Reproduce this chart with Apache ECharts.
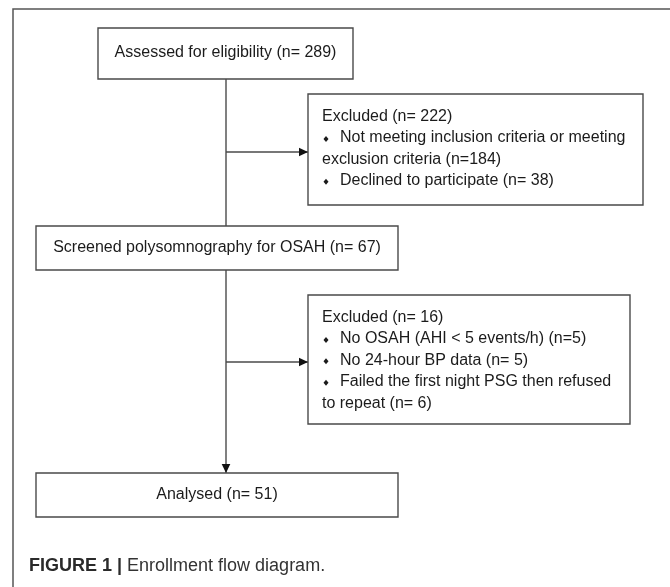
<!DOCTYPE html>
<html>
<head>
<meta charset="utf-8">
<title>Enrollment flow diagram</title>
<script src="https://cdn.jsdelivr.net/npm/echarts@6/dist/echarts.min.js"></script>
<style>
  html, body { margin: 0; padding: 0; background: #fff; }
  #chart { width: 670px; height: 587px; }
</style>
</head>
<body>
<div id="chart"></div>
<script>
// ---- data ----
const stageLabels = ['Assessed for eligibility', 'Screened polysomnography for OSAH', 'Analysed'];
const stageCounts = [289, 67, 51];
const excludedCounts = [222, 16];
const excludedReasons = [
  ['Not meeting inclusion criteria or meeting\nexclusion criteria (n=184)', 'Declined to participate (n= 38)'],
  ['No OSAH (AHI < 5 events/h) (n=5)', 'No 24-hour BP data (n= 5)', 'Failed the first night PSG then refused\nto repeat (n= 6)'],
];
const captionLabel = 'FIGURE 1 |';
const captionText = 'Enrollment flow diagram.';

// ---- layout (axis units = page pixels) ----
const stageBoxes = [[98, 28, 353, 79], [36, 226, 398, 270], [36, 473, 398, 517]];
const excludedBoxes = [[308, 94, 643, 205], [308, 295, 630, 424]];
const spineX = 226;
const branchY = [152, 362];
const frame = [13, 9];

const LINE = '#4a4a4a';
const INK = '#1b1b1b';
const FONT = '16px "Liberation Sans", Arial, sans-serif';
const LINE_H = 21.4;

// connectors: [x0, y0, x1, y1, arrow]
const connectors = [
  [spineX, stageBoxes[0][3], spineX, stageBoxes[1][1], 0],
  [spineX, branchY[0], excludedBoxes[0][0], branchY[0], 1],
  [spineX, stageBoxes[1][3], spineX, stageBoxes[2][1], 1],
  [spineX, branchY[1], excludedBoxes[1][0], branchY[1], 1],
];

function rectShape(api, b) {
  const p0 = api.coord([b[0], b[1]]);
  const p1 = api.coord([b[2], b[3]]);
  return { x: p0[0], y: p0[1], width: p1[0] - p0[0], height: p1[1] - p0[1] };
}

function renderStage(params, api) {
  const i = params.dataIndex;
  const r = rectShape(api, stageBoxes[i]);
  return {
    type: 'group',
    children: [
      { type: 'rect', shape: r, style: { fill: '#fff', stroke: LINE, lineWidth: 1.4 } },
      {
        type: 'text',
        style: {
          text: stageLabels[i] + ' (n= ' + stageCounts[i] + ')',
          x: r.x + r.width / 2, y: r.y + r.height / 2 - 0.5,
          align: 'center', verticalAlign: 'middle',
          font: FONT, fill: INK,
        },
      },
    ],
  };
}

function renderExcluded(params, api) {
  const i = params.dataIndex;
  const r = rectShape(api, excludedBoxes[i]);
  const left = r.x + 14;
  let y = r.y + 22.5;
  const children = [
    { type: 'rect', shape: r, style: { fill: '#fff', stroke: LINE, lineWidth: 1.4 } },
    {
      type: 'text',
      style: { text: 'Excluded (n= ' + excludedCounts[i] + ')', x: left, y: y, align: 'left', verticalAlign: 'middle', font: FONT, fill: INK },
    },
  ];
  excludedReasons[i].forEach((reason) => {
    reason.split('\n').forEach((part, k) => {
      y += LINE_H;
      if (k === 0) {
        const cx = left + 4, cy = y + 1;
        children.push({
          type: 'polygon',
          shape: { points: [[cx, cy - 3], [cx + 2.5, cy], [cx, cy + 3], [cx - 2.5, cy]] },
          style: { fill: INK },
        });
      }
      children.push({
        type: 'text',
        style: { text: part, x: k === 0 ? left + 18 : left, y: y, align: 'left', verticalAlign: 'middle', font: FONT, fill: INK },
      });
    });
  });
  return { type: 'group', children };
}

function renderConnector(params, api) {
  const c = connectors[params.dataIndex];
  const p0 = api.coord([c[0], c[1]]);
  const p1 = api.coord([c[2], c[3]]);
  const children = [{
    type: 'line',
    shape: { x1: p0[0], y1: p0[1], x2: p1[0], y2: p1[1] },
    style: { stroke: LINE, lineWidth: 1.4 },
  }];
  if (c[4]) {
    const dx = p1[0] - p0[0], dy = p1[1] - p0[1];
    const len = Math.hypot(dx, dy);
    const ux = dx / len, uy = dy / len;
    const L = 9, W = 4.3;
    const bx = p1[0] - ux * L, by = p1[1] - uy * L;
    children.push({
      type: 'polygon',
      shape: { points: [[p1[0], p1[1]], [bx - uy * W, by + ux * W], [bx + uy * W, by - ux * W]] },
      style: { fill: '#111' },
    });
  }
  return { type: 'group', children };
}

function renderFrame(params, api) {
  const tl = api.coord(frame);
  const tr = api.coord([670, frame[1]]);
  const bl = api.coord([frame[0], 587]);
  return {
    type: 'polyline',
    shape: { points: [bl, tl, tr] },
    style: { stroke: '#555', lineWidth: 1.5, fill: null },
  };
}

const chart = echarts.init(document.getElementById('chart'));
chart.setOption({
  backgroundColor: '#fff',
  animation: false,
  title: {
    text: '{b|' + captionLabel + '}{n| ' + captionText + '}',
    left: 29,
    top: 557,
    padding: 0,
    textStyle: {
      fontWeight: 'normal',
      rich: {
        b: { fontFamily: '"Liberation Sans", Arial, sans-serif', fontSize: 18, fontWeight: 'bold', color: '#2a2a2a' },
        n: { fontFamily: '"Liberation Sans", Arial, sans-serif', fontSize: 18, fontWeight: 'normal', color: '#333' },
      },
    },
  },
  grid: { left: 0, right: 0, top: 0, bottom: 0 },
  xAxis: { type: 'value', min: 0, max: 670, show: false },
  yAxis: { type: 'value', min: 0, max: 587, inverse: true, show: false },
  series: [
    { type: 'custom', name: 'frame', data: [[0]], renderItem: renderFrame, silent: true },
    { type: 'custom', name: 'connectors', data: connectors.map((c, i) => [i]), renderItem: renderConnector, silent: true },
    { type: 'custom', name: 'stages', data: stageLabels.map((s, i) => [i]), renderItem: renderStage, silent: true },
    { type: 'custom', name: 'excluded', data: excludedCounts.map((n, i) => [i]), renderItem: renderExcluded, silent: true },
  ],
});
</script>
</body>
</html>
